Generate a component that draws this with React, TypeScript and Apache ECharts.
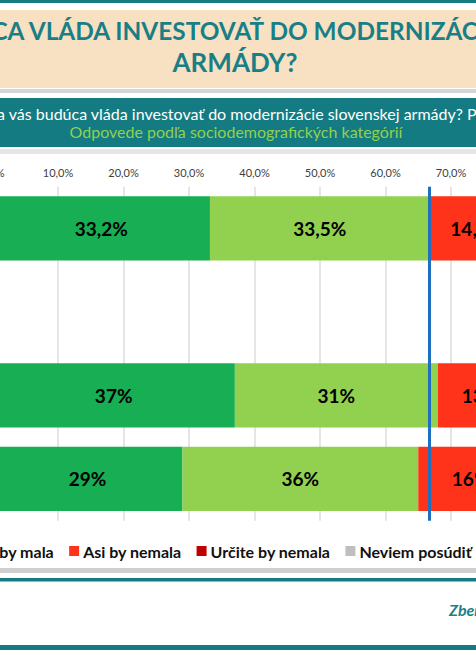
import React, { useEffect, useRef } from "react";
import * as echarts from "echarts";

const categories = ["Spolu", "Pohlavie", "Muži", "Ženy"];
const seriesNames = ["Určite by mala", "Asi by mala", "Asi by nemala", "Určite by nemala", "Neviem posúdiť"];
const urciteByMala = [33.2, null, 37, 29];
const asiByMala = [33.5, null, 31, 36];
const asiByNemala = [14.5, null, 13, 16];
const urciteByNemala = [7.4, null, 8, 9];
const neviemPosudit = [11.4, null, 11, 10];
const seriesColors = ["#17AE54", "#92D050", "#FF3319", "#C00000", "#BFBFBF"];
const xTickValues = [0, 10, 20, 30, 40, 50, 60, 70, 80, 90, 100];

const titlePrefix = "MALA BY PODĽA VÁS BUDÚ";
const titleLine1 = "MALA BY PODĽA VÁS BUDÚCA VLÁDA INVESTOVAŤ DO MODERNIZÁCIE SLOVENSKEJ";
const titleLine2 = "ARMÁDY?";
const questionPrefix = "Mala by podľa ";
const questionText = "Mala by podľa vás budúca vláda investovať do modernizácie slovenskej armády? Percentuálne";
const subtitleText = "Odpovede podľa sociodemografických kategórií";
const footerText = "Zber dát: AKO";

const TEAL = "#137B81";
const FONT = "Lato";
// the slide is wider than the visible window; the chart canvas is shifted left by OFF
const OFF = 200;
const CW = 876;

const TITLE1_FONT = `bold 24.4px ${FONT}`;
const TITLE2_FONT = `bold 26px ${FONT}`;
const QUESTION_FONT = `16px ${FONT}`;

function fmt(v: number) {
  return Number.isInteger(v) ? `${v}%` : `${v.toFixed(1).replace(".", ",")}%`;
}

function measure(text: string, font: string) {
  const ctx = document.createElement("canvas").getContext("2d");
  if (!ctx) return 0;
  ctx.font = font;
  return ctx.measureText(text).width;
}

export default function App() {
  const ref = useRef<HTMLDivElement>(null);
  useEffect(() => {
    if (!ref.current) return;
    const chart = echarts.init(ref.current, undefined, { renderer: "svg" });
    const allData = [urciteByMala, asiByMala, asiByNemala, urciteByNemala, neviemPosudit];
    const refLine = (urciteByMala[0] as number) + (asiByMala[0] as number);
    const series: any[] = allData.map((d, i) => ({
      name: seriesNames[i],
      type: "bar",
      stack: "total",
      data: d,
      barCategoryGap: "23%",
      itemStyle: { color: seriesColors[i] },
      label: {
        show: true,
        position: "inside",
        color: "#000",
        fontFamily: FONT,
        fontWeight: "bold",
        fontSize: 19,
        formatter: (p: any) => (p.value == null ? "" : fmt(p.value)),
      },
      ...(i === 0
        ? {
            markLine: {
              silent: true,
              symbol: "none",
              label: { show: false },
              lineStyle: { color: "#1F6FC0", width: 3, type: "solid" },
              data: [{ xAxis: refLine }],
            },
          }
        : {}),
    }));

    // visible "CA VLÁDA ..." starts at x = -5; "vás" starts at x = 9.5
    const title1X = OFF - 5 - measure(titlePrefix, TITLE1_FONT);
    const questionX = OFF + 9.5 - measure(questionPrefix, QUESTION_FONT);

    chart.setOption({
      animation: false,
      backgroundColor: "#fff",
      textStyle: { fontFamily: FONT },
      grid: { left: OFF - 7.5, right: CW - (OFF + 647.5), top: 186.7, bottom: 129.3, containLabel: false },
      xAxis: {
        type: "value",
        position: "top",
        min: xTickValues[0],
        max: xTickValues[xTickValues.length - 1],
        interval: 10,
        axisLine: { show: false },
        axisTick: { show: false },
        axisLabel: {
          color: "#404040",
          fontSize: 11,
          margin: 9,
          formatter: (v: number) => `${v.toFixed(1).replace(".", ",")}%`,
        },
        splitLine: { lineStyle: { color: "#DCDCDC", width: 1.5 } },
      },
      yAxis: {
        type: "category",
        inverse: true,
        data: categories,
        axisLine: { show: false },
        axisTick: { show: false },
        axisLabel: { show: false },
      },
      legend: {
        data: seriesNames,
        left: OFF - 177,
        top: 538,
        itemWidth: 10,
        itemHeight: 10,
        itemGap: 15,
        icon: "rect",
        textStyle: { fontFamily: FONT, fontWeight: "bold", fontSize: 16, color: "#111", padding: [0, 0, 0, -1] },
      },
      graphic: [
        { type: "rect", shape: { x: 0, y: 0, width: CW, height: 3 }, style: { fill: TEAL } },
        { type: "rect", shape: { x: 0, y: 10, width: CW, height: 78 }, style: { fill: "#F8E0C2" } },
        { type: "rect", shape: { x: 0, y: 89, width: CW, height: 4 }, style: { fill: "#D4D4D4" } },
        {
          type: "text",
          x: title1X,
          y: 42,
          style: { text: titleLine1, fill: "#187F86", font: TITLE1_FONT, textAlign: "left", textVerticalAlign: "bottom" },
        },
        {
          type: "text",
          x: OFF + 235,
          y: 75,
          style: { text: titleLine2, fill: "#187F86", font: TITLE2_FONT, textAlign: "center", textVerticalAlign: "bottom" },
        },
        { type: "rect", shape: { x: 0, y: 98, width: CW, height: 49 }, style: { fill: TEAL } },
        { type: "rect", shape: { x: 0, y: 149, width: CW, height: 5 }, style: { fill: "#E6E6E6" } },
        {
          type: "text",
          x: questionX,
          y: 113,
          style: { text: questionText, fill: "#fff", font: QUESTION_FONT, textAlign: "left", textVerticalAlign: "middle" },
        },
        {
          type: "text",
          x: OFF + 236,
          y: 131,
          style: { text: subtitleText, fill: "#92D050", font: `16px ${FONT}`, textAlign: "center", textVerticalAlign: "middle" },
        },
        { type: "rect", shape: { x: 0, y: 568, width: CW, height: 5 }, style: { fill: "#CFCFCF" } },
        { type: "rect", shape: { x: 0, y: 578, width: CW, height: 3.5 }, style: { fill: TEAL } },
        {
          type: "text",
          x: OFF + 449,
          y: 617,
          style: { text: footerText, fill: "#1A8088", font: `italic bold 16px ${FONT}`, textAlign: "left", textVerticalAlign: "bottom" },
        },
        { type: "rect", shape: { x: 0, y: 645, width: CW, height: 5 }, style: { fill: TEAL } },
      ],
      series,
    });
    return () => chart.dispose();
  }, []);
  return (
    <div style={{ position: "fixed", left: 0, top: 0, width: 476, height: 650, overflow: "hidden", background: "#fff" }}>
      <div ref={ref} style={{ position: "absolute", left: -OFF, top: 0, width: CW, height: 650 }} />
    </div>
  );
}
